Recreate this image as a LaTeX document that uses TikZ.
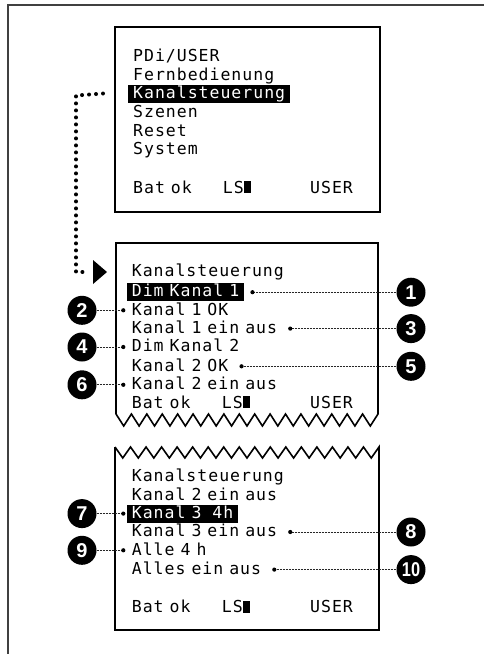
\documentclass[tikz,border=0pt]{standalone}
\usepackage{fontspec}
\newfontfamily\lcd[LetterSpace=6,WordSpace=0.55]{DejaVu Sans Mono}
\newfontfamily\numf{Liberation Sans}
\usetikzlibrary{calc}
\tikzset{
  txt/.style={anchor=base west, inner xsep=5pt, inner ysep=0pt, text height=13.8pt, text depth=4.2pt, font=\lcd\fontsize{16.5}{18}\selectfont},
  hl/.style={txt, fill=black, text=white},
  num/.style={circle, fill=black, text=white, minimum size=29pt, inner sep=0pt, font=\numf\bfseries\fontsize{20}{20}\selectfont},
  leader/.style={line width=0.9pt, dash pattern=on 0.9pt off 0.6pt, black!85},
  lcdbox/.style={line width=1.6pt, line join=miter},
  bigdots/.style={line width=4pt, line cap=round, dash pattern=on 0pt off 7pt},
  frame/.style={line width=1.5pt, black!75},
}
\begin{document}
\begin{tikzpicture}[x=1pt,y=-1pt]
\useasboundingbox (0,0) rectangle (484,654);
% outer frame (cropped)
\draw[frame] (484,5) -- (8,5) -- (8,654);

% ---------- box 1 ----------
\draw[line width=2.2pt] (115,27) rectangle (380,212);
\node[txt] (a1) at (128,61.7) {PDi/USER};
\node[txt] (a2) at (128,80) {Fernbedienung};
\node[hl]  (a3) at (128,98.3) {Kanalsteuerung};
\node[txt] (a4) at (128,117.5) {Szenen};
\node[txt] (a5) at (128,136) {Reset};
\node[txt] (a6) at (128,154.3) {System};
\node[txt] (ab) at (128,193.3) {Bat ok};
\node[txt] (al) at (217.7,193.3) {LS\rule{7.5pt}{12pt}};
\node[txt] (au) at (305,193.3) {USER};

% ---------- dotted arrow ----------
\coordinate (s0) at ($(a3.west)+(-25,0)$);
\coordinate (s1) at (86,272);
\draw[bigdots] (s0) -- (76,95.5) |- (s1);
\fill (93,260) -- (107,272) -- (93,284) -- cycle;

% ---------- box 2 ----------
\draw[lcdbox] (116,414) -- (116,243) -- (378,243) -- (378,414)
  \foreach \i in {1,...,34}{ -- ({378-\i*7.7059},{414+12*mod(\i,2)}) };
\node[txt] (b1) at (126.7,276.7) {Kanalsteuerung};
\node[hl]  (b2) at (126.7,296.7) {Dim Kanal 1};
\node[txt] (b3) at (126.7,315) {Kanal 1 OK};
\node[txt] (b4) at (126.7,333.3) {Kanal 1 ein aus};
\node[txt] (b5) at (126.7,351.7) {Dim Kanal 2};
\node[txt] (b6) at (126.7,371) {Kanal 2 OK};
\node[txt] (b7) at (126.7,389.5) {Kanal 2 ein aus};
\node[txt] (bb) at (126.7,408.3) {Bat ok};
\node[txt] (bl) at (216.7,408.3) {LS\rule{7.5pt}{12pt}};
\node[txt] (bu) at (305,408.3) {USER};

% ---------- box 3 ----------
\draw[lcdbox] (115,447) -- (115,630) -- (379,630) -- (379,447)
  \foreach \i in {1,...,34}{ -- ({379-\i*7.7647},{447+11*mod(\i,2)}) };
\node[txt] (c1) at (126.7,481.7) {Kanalsteuerung};
\node[txt] (c2) at (126.7,500) {Kanal 2 ein aus};
\node[hl]  (c3) at (126.7,518.3) {Kanal 3\hspace{11pt}4h};
\node[txt] (c4) at (126.7,536.7) {Kanal 3 ein aus};
\node[txt] (c5) at (126.7,555) {Alle 4 h};
\node[txt] (c6) at (126.7,574.3) {Alles ein aus};
\node[txt] (cb) at (126.7,612.7) {Bat ok};
\node[txt] (cl) at (216.7,612.7) {LS\rule{7.5pt}{12pt}};
\node[txt] (cu) at (305,612.7) {USER};

% ---------- numbered callouts ----------
\node[num] (n1) at (411,292.2) {1};
\node[num] (n2) at (82,310.3) {2};
\node[num] (n3) at (411,328.6) {3};
\node[num] (n4) at (82,347) {4};
\node[num] (n5) at (411,366.3) {5};
\node[num] (n6) at (82,384.8) {6};
\node[num] (n7) at (82,513.6) {7};
\node[num] (n8) at (411,532) {8};
\node[num] (n9) at (82,550.3) {9};
\node[num] (n10) at (411,569.6) {\scalebox{0.82}[1]{10}};

\coordinate (d1) at ($(b2.east |- n1)+(8,0)$);
\coordinate (d2) at ($(b3.west |- n2)+(-3.4,0)$);
\coordinate (d3) at ($(b4.east |- n3)+(8,0)$);
\coordinate (d4) at ($(b5.west |- n4)+(-3.4,0)$);
\coordinate (d5) at ($(b6.east |- n5)+(8,0)$);
\coordinate (d6) at ($(b7.west |- n6)+(-3.4,0)$);
\coordinate (d7) at ($(c3.west |- n7)+(-3.4,0)$);
\coordinate (d8) at ($(c4.east |- n8)+(8,0)$);
\coordinate (d9) at ($(c5.west |- n9)+(-3.4,0)$);
\coordinate (d10) at ($(c6.east |- n10)+(8,0)$);
\foreach \k in {1,...,10}{
  \draw[leader] (n\k) -- (d\k);
  \fill (d\k) circle (2.1pt);
}
\end{tikzpicture}
\end{document}
